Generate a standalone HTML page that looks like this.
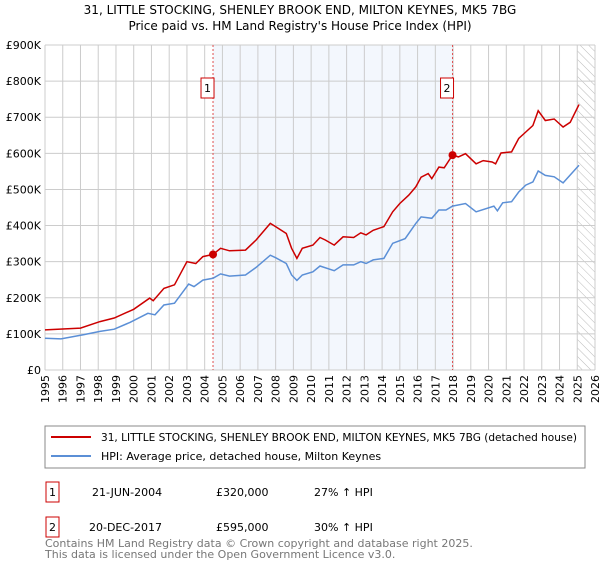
<!DOCTYPE html>
<html><head><meta charset="utf-8"><style>
body{margin:0;background:#fff;font-family:"DejaVu Sans","Liberation Sans",sans-serif}
svg text{font-family:"DejaVu Sans","Liberation Sans",sans-serif}
</style></head><body>
<svg width="600" height="560" viewBox="0 0 600 560">
<defs><pattern id="hatch" width="6" height="6" patternUnits="userSpaceOnUse" patternTransform="rotate(-45)"><line x1="0" y1="0" x2="0" y2="6" stroke="#bbb" stroke-width="1"/></pattern></defs>
<text x="300" y="14" font-size="12" text-anchor="middle">31, LITTLE STOCKING, SHENLEY BROOK END, MILTON KEYNES, MK5 7BG</text>
<text x="300" y="30" font-size="12" text-anchor="middle">Price paid vs. HM Land Registry's House Price Index (HPI)</text>
<g id="plot"></g>
<rect x="45" y="426" width="540" height="42" fill="#fff" stroke="#888"/>
<line x1="51" y1="437" x2="91" y2="437" stroke="#cc0000" stroke-width="2"/>
<text x="101" y="441" font-size="11" textLength="476" lengthAdjust="spacingAndGlyphs">31, LITTLE STOCKING, SHENLEY BROOK END, MILTON KEYNES, MK5 7BG (detached house)</text>
<line x1="51" y1="456" x2="91" y2="456" stroke="#5b8fd6" stroke-width="2"/>
<text x="101" y="460" font-size="11">HPI: Average price, detached house, Milton Keynes</text>
<g font-size="11">
<rect x="46" y="482" width="13" height="20" fill="#fff" stroke="#cc0000"/><text x="52.5" y="496" text-anchor="middle">1</text>
<text x="92" y="496">21-JUN-2004</text><text x="216" y="496">£320,000</text><text x="314" y="496">27% ↑ HPI</text>
<rect x="46" y="517" width="13" height="20" fill="#fff" stroke="#cc0000"/><text x="52.5" y="531" text-anchor="middle">2</text>
<text x="89" y="531">20-DEC-2017</text><text x="216" y="531">£595,000</text><text x="314" y="531">30% ↑ HPI</text>
</g>
<text x="45" y="547" font-size="11" fill="#777">Contains HM Land Registry data © Crown copyright and database right 2025.</text>
<text x="45" y="558" font-size="11" fill="#777">This data is licensed under the Open Government Licence v3.0.</text>
</svg>
<script>
const yTicks=[0,100,200,300,400,500,600,700,800,900];
const yTickLabels=["£0","£100K","£200K","£300K","£400K","£500K","£600K","£700K","£800K","£900K"];
const years=[1995,1996,1997,1998,1999,2000,2001,2002,2003,2004,2005,2006,2007,2008,2009,2010,2011,2012,2013,2014,2015,2016,2017,2018,2019,2020,2021,2022,2023,2024,2025,2026];
const redX=[1995,1997,1998.1,1998.9,2000,2000.9,2001.1,2001.7,2002.3,2003,2003.5,2003.9,2004.47,2004.9,2005.4,2006.3,2006.9,2007.7,2008,2008.6,2008.9,2009.2,2009.5,2010.1,2010.5,2010.8,2011.3,2011.8,2012.4,2012.8,2013.1,2013.5,2014.1,2014.6,2015,2015.5,2015.9,2016.2,2016.6,2016.8,2017.2,2017.5,2017.97,2018.3,2018.7,2019.3,2019.7,2020.2,2020.4,2020.7,2021.3,2021.7,2022.1,2022.5,2022.8,2023.2,2023.7,2024.2,2024.6,2025.1];
const redY=[111,116,134,144,168,199,192,226,236,300,295,314,320,337,330,332,360,406,397,378,337,309,337,346,367,360,346,369,367,380,374,387,397,438,461,484,507,534,544,530,562,560,595,590,599,571,580,576,571,601,604,641,659,677,718,691,695,673,686,735];
const blueX=[1995,1995.9,1997.2,1998.1,1998.9,1999.8,2000.8,2001.2,2001.7,2002.3,2003.1,2003.4,2003.9,2004.47,2004.9,2005.4,2006.3,2006.9,2007.7,2008,2008.6,2008.9,2009.2,2009.5,2010.1,2010.5,2011.3,2011.8,2012.4,2012.8,2013.1,2013.5,2014.1,2014.6,2015.3,2015.9,2016.2,2016.8,2017.2,2017.6,2017.97,2018.7,2019.3,2020.3,2020.5,2020.8,2021.3,2021.7,2022.1,2022.5,2022.8,2023.2,2023.7,2024.2,2025.1];
const blueY=[88,86,98,107,113,132,157,153,180,185,238,231,249,254,266,260,263,284,318,311,295,263,248,263,272,288,275,291,291,300,295,305,309,351,364,406,424,420,443,443,454,461,438,454,441,463,466,493,512,521,551,539,535,518,567];
const saleX=[2004.47,2017.97];
const saleY=[320,595];
const saleLabels=["1","2"];
const L=45,R=595,T=45,B=370;
const xs=y=>L+(y-1995)*(R-L)/31;
const ys=v=>B-v*(B-T)/900;
const NS="http://www.w3.org/2000/svg";
const g=document.getElementById('plot');
function mk(t,a){const e=document.createElementNS(NS,t);for(const k in a)e.setAttribute(k,a[k]);g.appendChild(e);return e;}
let e=mk('rect',{x:xs(saleX[0]),y:T,width:xs(saleX[1])-xs(saleX[0]),height:B-T,fill:'#eef3fc',opacity:0.7});


e=mk('rect',{x:xs(2025),y:T,width:R-xs(2025),height:B-T,fill:'url(#hatch)'});


years.forEach(y=>{
 e=mk('line',{x1:xs(y),x2:xs(y),y1:T,y2:B,stroke:'#ccc','stroke-width':1});
 
 
 const tx=xs(y)+4,ty=B+5;
 e=mk('text',{x:tx,y:ty,'font-size':11,'text-anchor':'end',transform:`rotate(-90 ${tx} ${ty})`});
 e.textContent=y;
 
 
});
yTicks.forEach((v,i)=>{
 e=mk('line',{x1:L,x2:R,y1:ys(v),y2:ys(v),stroke:'#ccc','stroke-width':1});
 
 
 e=mk('text',{x:L-4,y:ys(v)+4,'font-size':11,'text-anchor':'end'});
 e.textContent=yTickLabels[i];
 
 
});
saleX.forEach((x,i)=>{
 e=mk('line',{x1:xs(x),x2:xs(x),y1:T,y2:B,stroke:'#e05050','stroke-width':1,'stroke-dasharray':'2,2'});
 
 
 e=mk('rect',{x:xs(x)-12,y:78,width:13,height:20,fill:'#fff',stroke:'#cc0000'});
 
 
 e=mk('text',{x:xs(x)-5.5,y:92,'font-size':11,'text-anchor':'middle'});
 e.textContent=saleLabels[i];
 
 
});
function line(X,Y,c,n){const d=X.map((x,i)=>(i?'L':'M')+xs(x).toFixed(1)+','+ys(Y[i]).toFixed(1)).join('');
 const p=mk('path',{d:d,fill:'none',stroke:c,'stroke-width':1.5});
 
 }
line(blueX,blueY,'#5b8fd6','hpi-line');
line(redX,redY,'#cc0000','property-line');
saleX.forEach((x,i)=>{
 e=mk('circle',{cx:xs(x),cy:ys(saleY[i]),r:4,fill:'#cc0000'});
 
 
});
</script>
</body></html>
